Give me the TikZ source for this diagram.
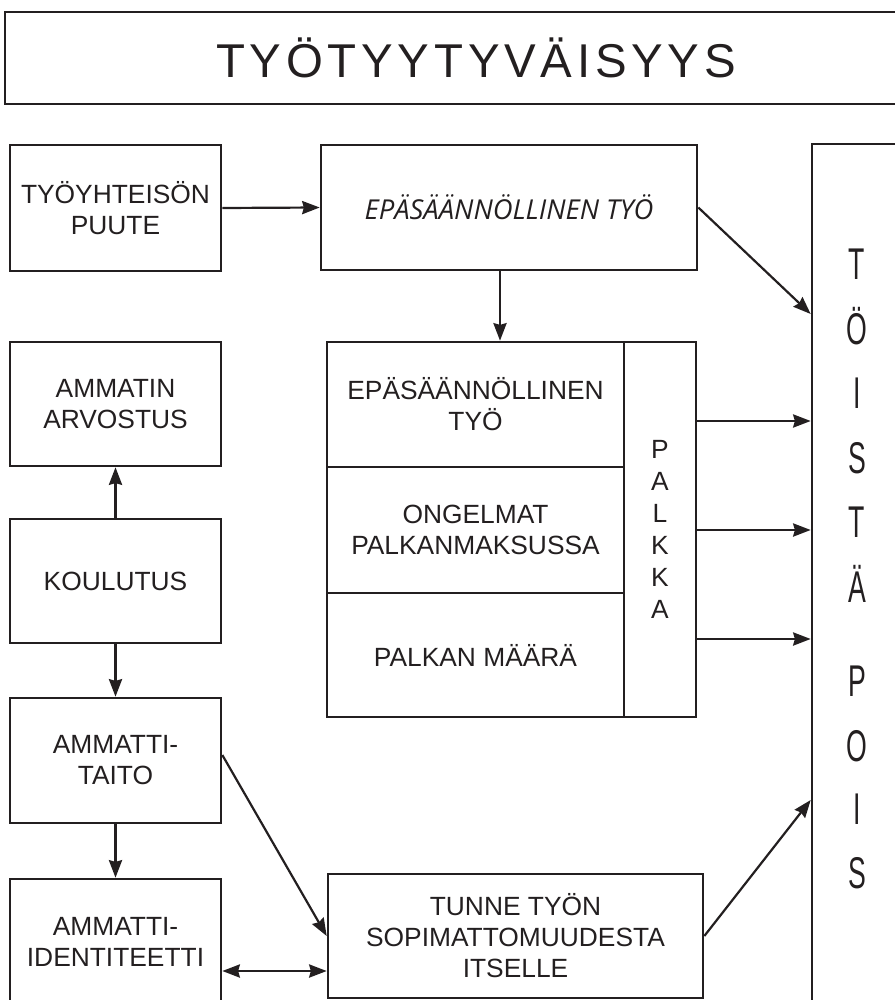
\documentclass[tikz,border=0pt]{standalone}
\usepackage{fontspec}
\setmainfont{Liberation Sans}
\newfontfamily\titlefont[LetterSpace=10]{Liberation Sans}
\newfontfamily\itfont{Open Sans}
\newfontfamily\condfont[FakeStretch=0.6]{Liberation Sans}
\usetikzlibrary{arrows.meta,calc}
\definecolor{ink}{HTML}{231F20}
\begin{document}
\begin{tikzpicture}[x=0.02cm,y=-0.02cm,
  box/.style={draw=ink,line width=1.5pt,inner sep=0pt,align=center,text=ink,
    font=\fontsize{15}{17.6}\selectfont},
  wh/.style 2 args={minimum width=#1*0.02cm,minimum height=#2*0.02cm},
  arr/.style={draw=ink,line width=1.25pt,-{Stealth[length=10pt,width=7.5pt,inset=1pt]}},
  darr/.style={draw=ink,line width=1.25pt,{Stealth[length=10pt,width=7.5pt,inset=1pt]}-{Stealth[length=10pt,width=7.5pt,inset=1pt]}},
  letter/.style={anchor=base,inner sep=0pt,text=ink,font=\condfont\fontsize{25.3}{25.3}\selectfont}]
\useasboundingbox (0,0) rectangle (895,1000);
\clip (0,0) rectangle (895,1000);

% title
\node[box,wh={942}{92},font=\titlefont\fontsize{27}{30}\selectfont] (title) at (476,58) {TYÖTYYTYVÄISYYS};

% left column
\node[box,wh={211}{126}] (puute) at (115.5,208) {TYÖYHTEISÖN\\PUUTE};
\node[box,wh={211}{124}] (arvostus) at (115.5,404) {AMMATIN\\ARVOSTUS};
\node[box,wh={211}{124}] (koulutus) at (115.5,581) {KOULUTUS};
\node[box,wh={211}{125}] (taito) at (115.5,760.5) {AMMATTI-\\TAITO};
\node[box,wh={211}{126}] (ident) at (115.5,942) {AMMATTI-\\IDENTITEETTI};

% middle
\node[box,wh={376}{125},font=\itfont\itshape\fontsize{15.6}{18}\selectfont] (epa) at (509,207.5) {EPÄSÄÄNNÖLLINEN TYÖ};
\node[box,wh={297}{125}] (e1) at (475.5,404.5) {EPÄSÄÄNNÖLLINEN\\TYÖ};
\node[box,wh={297}{126}] (e2) at (475.5,530) {ONGELMAT\\PALKANMAKSUSSA};
\node[box,wh={297}{124}] (e3) at (475.5,655) {PALKAN MÄÄRÄ};
\node[box,wh={72}{375},font=\fontsize{15}{18.3}\selectfont] (palkka) at (660,529.5) {P\\A\\L\\K\\K\\A};
\node[box,wh={375}{124}] (tunne) at (515.5,936) {TUNNE TYÖN\\SOPIMATTOMUUDESTA\\ITSELLE};

% right column
\node[box,wh={90}{876}] (tois) at (857,582) {};
\foreach \l/\y in {T/263,Ö/328,I/392,S/457,T/521,Ä/586,P/680,O/745,I/808,S/872}
  \node[letter] at (857,\y+16) {\l};

% connectors
\draw[arr] (puute.east) -- (epa.west);
\draw[arr] (epa.east) -- (tois.west |- 0,314);
\draw[arr] (epa.south -| 500,0) -- (e1.north -| 500,0);
\draw[arr] (palkka.east |- 0,421) -- (tois.west |- 0,421);
\draw[arr] (palkka.east |- 0,530) -- (tois.west |- 0,530);
\draw[arr] (palkka.east |- 0,639) -- (tois.west |- 0,639);
\draw[arr] (koulutus.north) -- (arvostus.south);
\draw[arr] (koulutus.south) -- (taito.north);
\draw[arr] (taito.south) -- (ident.north);
\draw[arr] (taito.east |- 0,755) -- (tunne.west);
\draw[darr] (ident.east |- 0,971) -- (tunne.west |- 0,971);
\draw[arr] (tunne.east) -- (tois.west |- 0,800);
\end{tikzpicture}
\end{document}
